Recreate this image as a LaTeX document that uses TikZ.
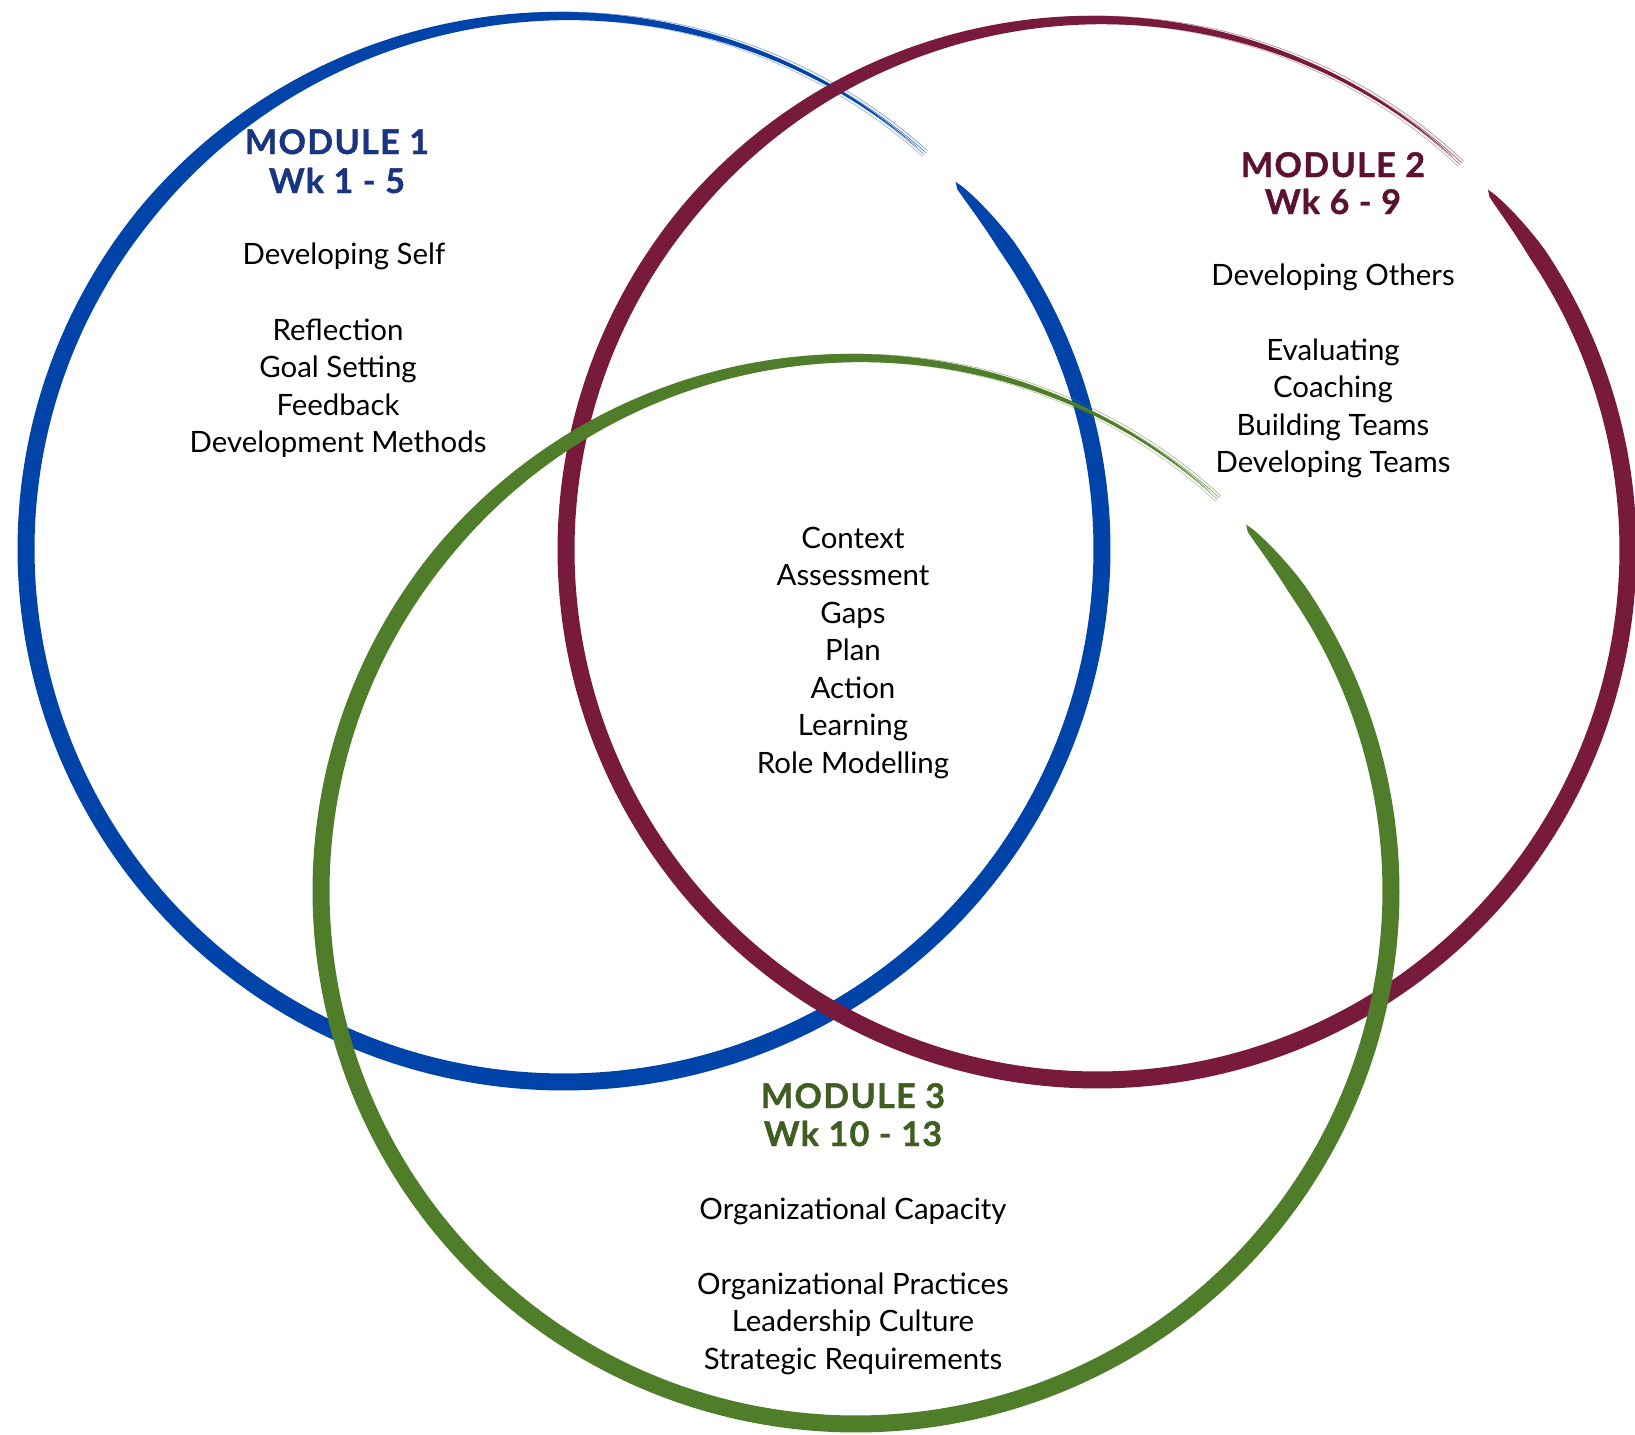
\documentclass[tikz,border=0pt]{standalone}
\usepackage{fontspec}
\setmainfont{Lato}
\definecolor{mblue}{HTML}{0044AA}
\definecolor{mmaroon}{HTML}{781A3C}
\definecolor{mgreen}{HTML}{4F7D2A}
\definecolor{tblue}{HTML}{1A3580}
\definecolor{tmaroon}{HTML}{5C1130}
\definecolor{tgreen}{HTML}{3F5E22}
\newcommand\brushring[8]{% color, cx, cy, rx, ry, start, span, halfwidth
  \fill[#1] plot[domain=0.0005:0.9995, samples=360]
    ({#2+(#4+#8*hwf(\x))*cos(#6+#7*\x)}, {#3+(#5+#8*hwf(\x))*sin(#6+#7*\x)})
    -- plot[domain=0.9995:0.0005, samples=360]
    ({#2+(#4-#8*hwf(\x))*cos(#6+#7*\x)}, {#3+(#5-#8*hwf(\x))*sin(#6+#7*\x)}) -- cycle;
  \foreach \off/\op in {4/0.5,-3.5/0.4,1.5/0.7,-1/0.6}{
    \draw[#1, line width=0.35pt, opacity=\op] plot[domain=0.8:1.003, samples=60]
      ({#2+(#4+\off)*cos(#6+#7*\x)}, {#3+(#5+\off)*sin(#6+#7*\x)});
  }
}
\begin{document}
\begin{tikzpicture}[x=0.5pt,y=-0.5pt,
  declare function={hwf(\u)=min(1,pow(max(0.0001,min(1,\u/0.025)),0.5))*min(1,pow(max(0.0001,1-\u)/0.26,0.9));},
  body/.style={anchor=base, inner sep=0pt, font=\fontsize{14.7}{18.75}\selectfont, text=black},
  title/.style={anchor=base, inner sep=0pt, font=\fontsize{17}{18.75}\selectfont\bfseries\addfontfeature{FakeBold=1.2,LetterSpace=4}}]
\useasboundingbox (0,0) rectangle (1635,1435);
\fill[white] (0,0) rectangle (1635,1435);
% rings: blue, maroon, green (green on top)
\brushring{mblue}{564}{549}{538}{533}{-43.6}{354.8}{8.5}
\brushring{mmaroon}{1097}{550}{531}{530}{-42.9}{355.2}{8.5}
\brushring{mgreen}{856}{891}{535}{533}{-43.5}{355.2}{8.5}
% Module 1
\node[title, text=tblue] (m1t) at (337,154) {MODULE 1};
\node[title, text=tblue] (m1w) at (337,193) {Wk 1 - 5};
\node[body] (m1a) at (344,264) {Developing Self};
\node[body] (m1b) at (338,340) {Reflection};
\node[body] (m1c) at (338,377.5) {Goal Setting};
\node[body] (m1d) at (338,415) {Feedback};
\node[body] (m1e) at (338,452.5) {Development Methods};
% Module 2
\node[title, text=tmaroon] (m2t) at (1333,177) {MODULE 2};
\node[title, text=tmaroon] (m2w) at (1333,214) {Wk 6 - 9};
\node[body] (m2a) at (1333,285) {Developing Others};
\node[body] (m2b) at (1333,360) {Evaluating};
\node[body] (m2c) at (1333,397.5) {Coaching};
\node[body] (m2d) at (1333,435) {Building Teams};
\node[body] (m2e) at (1333,472.5) {Developing Teams};
% Centre
\node[body] (c1) at (853,548) {Context};
\node[body] (c2) at (853,585.5) {Assessment};
\node[body] (c3) at (853,623) {Gaps};
\node[body] (c4) at (853,660.5) {Plan};
\node[body] (c5) at (853,698) {Action};
\node[body] (c6) at (853,735.5) {Learning};
\node[body] (c7) at (853,773) {Role Modelling};
% Module 3
\node[title, text=tgreen] (m3t) at (853,1108) {MODULE 3};
\node[title, text=tgreen] (m3w) at (853,1146) {Wk 10 - 13};
\node[body] (m3a) at (853,1219) {Organizational Capacity};
\node[body] (m3b) at (853,1294) {Organizational Practices};
\node[body] (m3c) at (853,1331.5) {Leadership Culture};
\node[body] (m3d) at (853,1369) {Strategic Requirements};
\end{tikzpicture}
\end{document}
